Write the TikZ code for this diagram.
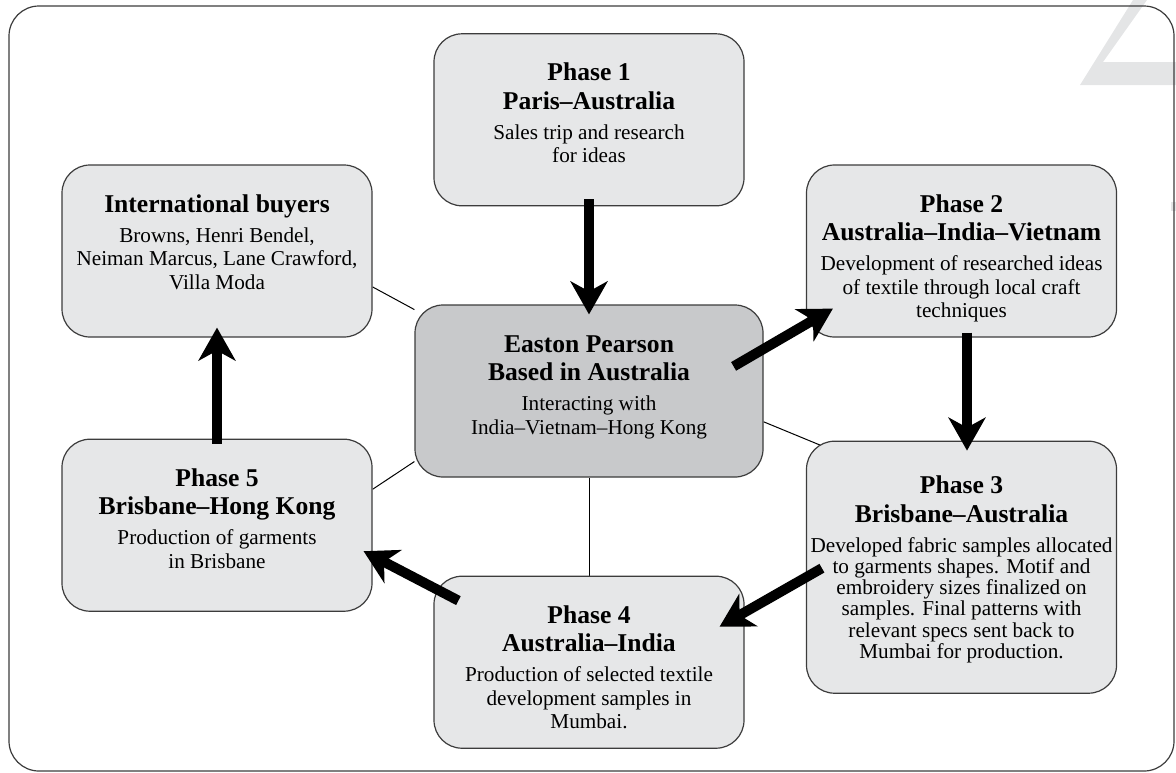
\documentclass[tikz,border=0pt]{standalone}
\usepackage{fontspec}
\setmainfont{Liberation Serif}
\usepackage{xcolor}
\usetikzlibrary{arrows.meta,positioning,calc,backgrounds}

\definecolor{boxfill}{HTML}{E6E7E8}
\definecolor{hubfill}{HTML}{C8C9CB}
\definecolor{boxline}{HTML}{3C3C3C}
\definecolor{ghost}{HTML}{E4E5E6}
\newcommand{\hd}[1]{{\fontsize{12.8}{14}\selectfont\bfseries #1}}
\newcommand{\stack}[1]{\begin{tabular}[t]{@{}c@{}}#1\end{tabular}}

\begin{document}
\begin{tikzpicture}[
  x=0.5pt, y=-0.5pt,
  phase/.style={draw=boxline, fill=boxfill, line width=0.6pt, rounded corners=14pt,
    minimum width=155pt, minimum height=86pt, inner xsep=1pt, inner ysep=2pt,
    text height=21.5pt, text depth=60.5pt, font=\fontsize{10.6}{11.8}\selectfont},
  hubbox/.style={phase, fill=hubfill, minimum width=174pt},
  link/.style={line width=0.5pt},
  arr/.style={-{Stealth[length=16.5pt, width=18.5pt, inset=5pt]}, line width=5pt}
]
\useasboundingbox (0,0) rectangle (1176,772);
% faint marks from the next page
\fill[ghost] (1133,0) -- (1080,85) -- (1176,85) -- (1176,62) -- (1103,62) -- (1147,0) -- cycle;
\fill[ghost] (1171,202) rectangle (1176,211);
\draw[boxline, line width=0.6pt, rounded corners=15pt] (9,6) rectangle (1174,771);

\node[hubbox] (hub) at (589,391) {\stack{\hd{Easton Pearson}\\[1.8pt] \hd{Based in Australia}\\[3.2pt] Interacting with\\ India–Vietnam–Hong Kong}};
\node[phase, above=49pt of hub] (phase1) {\stack{\hd{Phase 1}\\[1.8pt] \hd{Paris–Australia}\\[3.2pt] Sales trip and research\\ for ideas}};
\node[phase] (intl) at (217,251) {\stack{\hd{International buyers}\\[3.2pt] Browns, Henri Bendel,\\ Neiman Marcus, Lane Crawford,\\ Villa Moda}};
\node[phase] (phase2) at (961.5,251) {\stack{\hd{Phase 2}\\[1.8pt] \hd{Australia–India–Vietnam}\\[3.2pt] Development of researched ideas\\ of textile through local craft\\ techniques}};
\node[phase, below=51.5pt of phase2, minimum height=126pt, text height=24.3pt, text depth=97.7pt,
  font=\fontsize{10.6}{10.6}\selectfont] (phase3) {\stack{\hd{Phase 3}\\[2.1pt] \hd{Brisbane–Australia}\\[4.4pt] Developed fabric samples allocated\\ to garments shapes. Motif and\\ embroidery sizes finalized on\\ samples. Final patterns with\\ relevant specs sent back to\\ Mumbai for production.}};
\node[phase, below=49pt of hub] (phase4) {\stack{\hd{Phase 4}\\[1.8pt] \hd{Australia–India}\\[3.2pt] Production of selected textile\\ development samples in\\ Mumbai.}};
\node[phase, below=50.5pt of intl] (phase5) {\stack{\hd{Phase 5}\\[1.8pt] \hd{Brisbane–Hong Kong}\\[3.2pt] Production of garments\\ in Brisbane}};

% flow of the phases
\draw[arr] ([yshift=3.5pt]phase1.south) -- ([yshift=-5pt]hub.north);
\draw[arr] ([shift={(-30,62)}]hub.north east) -- ([shift={(27,-29)}]phase2.south west);
\draw[arr] ([shift={(5.5,-5)}]phase2.south) -- ([shift={(5.5,10)}]phase3.north);
\draw[arr] ([shift={(16,1)}]phase3.west) -- ([shift={(-25,51)}]phase4.north east);
\draw[arr] ([shift={(25,25)}]phase4.north west) -- ([shift={(-9,26)}]phase5.east);
\draw[arr] ([yshift=-2.5pt]phase5.north) -- ([yshift=5pt]intl.south);

\begin{scope}[on background layer]
\draw[link] (intl.-13) -- (hub.155);
\draw[link] (phase5.13) -- (hub.202.5);
\draw[link] (hub.south) -- (phase4.north);
\draw[link] (hub.-10.4) -- ([shift={(30,11)}]phase3.north west);
\end{scope}
\end{tikzpicture}
\end{document}
